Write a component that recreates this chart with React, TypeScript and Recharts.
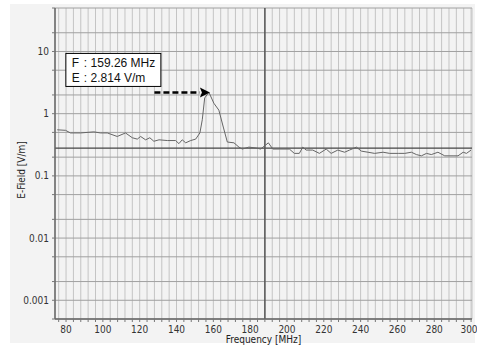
import { LineChart, Line, XAxis, YAxis, CartesianGrid, ReferenceLine, ReferenceDot } from 'recharts';

// trace (MHz, V/m)
const freqs = [
	75.2, 79.7, 82.4, 87.9, 95.1, 98.7, 102.4, 107.8, 112.3, 116, 118.7, 120.5, 123.2, 125.5, 127.7, 130.5,
	135, 139.5, 141.3, 143.1, 145, 147.7, 150.4, 152.7, 154, 155.3, 157.6, 160.3, 163, 165.4, 167.6, 171.2,
	173.9, 175.7, 179.3, 183.4, 185.7, 189.9, 192.3, 195.9, 201.3, 204, 206.7, 208.6, 210.4, 214, 217.6,
	221.3, 224, 227.6, 231.3, 234, 237.7, 240.4, 244, 247.6, 252.2, 255.8, 260.4, 264, 267.6, 270.3, 273,
	275.8, 278.4, 282, 285.7, 290.2, 292.9, 295.7, 297.5, 300,
];
const field = [
	0.55, 0.54, 0.49, 0.49, 0.51, 0.49, 0.49, 0.43, 0.49, 0.41, 0.39, 0.43, 0.38, 0.41, 0.36, 0.38,
	0.37, 0.37, 0.33, 0.38, 0.34, 0.37, 0.39, 0.49, 0.8, 1.79, 2.2, 1.47, 1.14, 0.61, 0.35, 0.34,
	0.29, 0.27, 0.29, 0.28, 0.27, 0.34, 0.27, 0.27, 0.27, 0.23, 0.23, 0.29, 0.26, 0.26, 0.23,
	0.27, 0.23, 0.26, 0.24, 0.26, 0.29, 0.25, 0.24, 0.23, 0.24, 0.23, 0.23, 0.23, 0.24, 0.22, 0.21,
	0.23, 0.22, 0.24, 0.21, 0.21, 0.21, 0.24, 0.23, 0.26,
];

const xTicks = Array.from({ length: 57 }, (_, i) => 76 + i * 4);
const xLabels = [80, 100, 120, 140, 160, 180, 200, 220, 240, 260, 280, 300];
const yTicks = [0.0005, 0.001, 0.002, 0.005, 0.01, 0.02, 0.05, 0.1, 0.2, 0.5, 1, 2, 5, 10, 20, 50];
const yLabels = ['0.001', '0.01', '0.1', '1', '10'];

const limitLevel = 0.28;
const markerFreq = 188;
const peak = { freq: 157.6, value: 2.2 };
const arrowStart = 128;
const boxAnchor = { freq: 79.9, value: 9.3 };
const boxLines = [
	['F', ': 159.26 MHz'],
	['E', ': 2.814 V/m'],
];

const data = freqs.map((f, i) => ({ f, e: field[i] }));

const font = '"Liberation Sans Narrow", "DejaVu Sans Condensed", Arial, sans-serif';
const boxFont = '"Liberation Sans", Arial, sans-serif';

function fmtY(v: number) {
	const s = String(v);
	return yLabels.includes(s) ? s : '';
}

function XTick(props: any) {
	const { x, y, payload } = props;
	if (!xLabels.includes(payload.value)) return null;
	const tx = Math.min(x, 469);
	return (
		<text x={tx} y={y + 10} textAnchor="middle" fontFamily={font} fontSize={10} fill="#333">
			{payload.value}
		</text>
	);
}

function ArrowHead(props: any) {
	const { cx, cy } = props;
	return <path d={`M${cx + 1},${cy} L${cx - 9},${cy - 5} L${cx - 7},${cy} L${cx - 9},${cy + 5} Z`} fill="#000" />;
}

function InfoBox(props: any) {
	const { cx, cy } = props;
	return (
		<g>
			<rect x={cx} y={cy} width={95} height={33} fill="#fff" stroke="#000" strokeWidth={1} />
			{boxLines.map((l, i) => (
				<g key={i} fontFamily={boxFont} fontSize={12} fill="#111">
					<text x={cx + 6} y={cy + 14 + i * 15}>{l[0]}</text>
					<text x={cx + 18} y={cy + 14 + i * 15}>{l[1]}</text>
				</g>
			))}
		</g>
	);
}

function YTitle() {
	return (
		<text x={21} y={170} transform="rotate(-90 21 170)" textAnchor="middle" dominantBaseline="central" fontFamily={font} fontSize={10} fill="#222">
			E-Field [V/m]
		</text>
	);
}

export default function App() {
	return (
		<div style={styles.page}>
			<div style={styles.panel} />
			<LineChart width={477} height={345} data={data} margin={{ top: 8, right: 5, left: 0, bottom: 0 }} style={{ position: 'absolute', left: 0, top: 0 }}>
				<CartesianGrid horizontal={false} stroke="#c4c4c4" fill="#f3f3f3" />
				<CartesianGrid vertical={false} stroke="#a0a0a0" />
				<XAxis
					dataKey="f"
					type="number"
					domain={[74, 300.5]}
					ticks={xTicks}
					tick={<XTick />}
					interval={0}
					height={26}
					tickSize={3}
					tickMargin={1}
					axisLine={{ stroke: '#666', strokeWidth: 1.5 }}
					tickLine={{ stroke: '#777' }}
					label={{ value: 'Frequency [MHz]', position: 'insideBottom', offset: 2, fontSize: 10, fill: '#222', fontFamily: font }}
				/>
				<YAxis
					dataKey="e"
					type="number"
					scale="log"
					domain={[0.0005, 50]}
					allowDataOverflow
					ticks={yTicks}
					tickFormatter={fmtY}
					interval={0}
					width={55}
					tickSize={3}
					tickMargin={3}
					tick={{ fontSize: 10, fill: '#333', fontFamily: font }}
					axisLine={{ stroke: '#666', strokeWidth: 1.5 }}
					tickLine={{ stroke: '#777' }}
					label={<YTitle />}
				/>
				<ReferenceLine y={limitLevel} stroke="#444" strokeWidth={1.2} />
				<ReferenceLine x={markerFreq} stroke="#555" strokeWidth={1.5} />
				<Line type="linear" dataKey="e" stroke="#666" strokeWidth={1} dot={false} isAnimationActive={false} />
				<ReferenceLine
					segment={[{ x: arrowStart, y: peak.value }, { x: peak.freq - 5, y: peak.value }]}
					stroke="#000"
					strokeWidth={2.5}
					strokeDasharray="6 3"
				/>
				<ReferenceDot x={peak.freq} y={peak.value} shape={<ArrowHead />} />
				<ReferenceDot x={boxAnchor.freq} y={boxAnchor.value} shape={<InfoBox />} />
			</LineChart>
		</div>
	);
}

const styles: Record<string, React.CSSProperties> = {
	page: {
		position: 'absolute',
		left: 0,
		top: 0,
		width: 477,
		height: 345,
		background: '#fff',
	},
	panel: {
		position: 'absolute',
		left: 10,
		top: 4,
		width: 465,
		height: 339,
		background: '#f3f3f3',
	},
};
